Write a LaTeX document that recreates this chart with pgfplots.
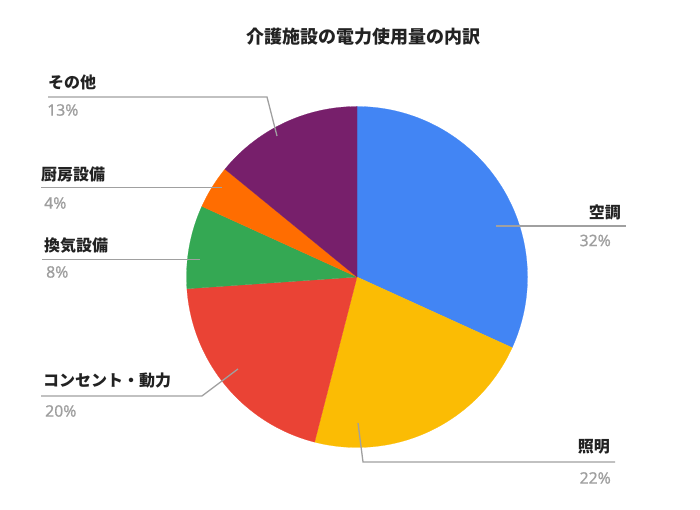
\documentclass[border=0pt]{standalone}
\usepackage{pgfplots}
\pgfplotsset{compat=1.18}
\usepackage{fontspec}
\setmainfont{Noto Sans CJK JP}
\newfontfamily\pctfont{Noto Sans}[FakeBold=0.6]
\definecolor{cBlue}{HTML}{4285F4}
\definecolor{cYellow}{HTML}{FBBC04}
\definecolor{cRed}{HTML}{EA4335}
\definecolor{cGreen}{HTML}{34A853}
\definecolor{cOrange}{HTML}{FF6D01}
\definecolor{cPurple}{HTML}{771F6B}
\definecolor{cLine}{HTML}{A0A0A0}
\definecolor{cPct}{HTML}{9E9E9E}
\definecolor{cText}{HTML}{222222}
% slice values (percent)
\def\vA{31.8}% 空調
\def\vB{22.2}% 照明
\def\vC{19.9}% コンセント・動力
\def\vD{7.9}%  換気設備
\def\vE{4.1}%  厨房設備
\def\vF{14.1}% その他
\pgfmathsetmacro\aA{90}
\pgfmathsetmacro\aB{\aA-3.6*\vA}
\pgfmathsetmacro\aC{\aB-3.6*\vB}
\pgfmathsetmacro\aD{\aC-3.6*\vC}
\pgfmathsetmacro\aE{\aD-3.6*\vD}
\pgfmathsetmacro\aF{\aE-3.6*\vE}
\pgfmathsetmacro\aG{\aF-3.6*\vF}
\def\cx{357}\def\cy{233}\def\rr{170.5}
\newcommand\lab{\fontsize{16}{18}\selectfont\bfseries\color{cText}}
\newcommand\pct{\fontsize{15.8}{18}\selectfont\pctfont\color{cPct}}
\begin{document}
\begin{tikzpicture}
\begin{axis}[scale only axis, width=700pt, height=510pt,
  xmin=0, xmax=700, ymin=0, ymax=510, hide axis, clip=false]
\path (rel axis cs:0,0) rectangle (rel axis cs:1,1);
\addplot[fill=cBlue, draw=cBlue, line width=0.2pt, domain=\aB:\aA, samples=90, variable=\t]
  ({\cx+\rr*cos(\t)},{\cy+\rr*sin(\t)}) -- (\cx,\cy) -- cycle;
\addplot[fill=cYellow, draw=cYellow, line width=0.2pt, domain=\aC:\aB, samples=70, variable=\t]
  ({\cx+\rr*cos(\t)},{\cy+\rr*sin(\t)}) -- (\cx,\cy) -- cycle;
\addplot[fill=cRed, draw=cRed, line width=0.2pt, domain=\aD:\aC, samples=70, variable=\t]
  ({\cx+\rr*cos(\t)},{\cy+\rr*sin(\t)}) -- (\cx,\cy) -- cycle;
\addplot[fill=cGreen, draw=cGreen, line width=0.2pt, domain=\aE:\aD, samples=40, variable=\t]
  ({\cx+\rr*cos(\t)},{\cy+\rr*sin(\t)}) -- (\cx,\cy) -- cycle;
\addplot[fill=cOrange, draw=cOrange, line width=0.2pt, domain=\aF:\aE, samples=30, variable=\t]
  ({\cx+\rr*cos(\t)},{\cy+\rr*sin(\t)}) -- (\cx,\cy) -- cycle;
\addplot[fill=cPurple, draw=cPurple, line width=0.2pt, domain=\aG:\aF, samples=50, variable=\t]
  ({\cx+\rr*cos(\t)},{\cy+\rr*sin(\t)}) -- (\cx,\cy) -- cycle;
% leader lines
\addplot[cLine, line width=1.3pt, no marks] coordinates {(277,374) (267,413) (48,413)};
\addplot[cLine, line width=1.3pt, no marks] coordinates {(222,322.3) (41,322.3)};
\addplot[cLine, line width=1.3pt, no marks] coordinates {(200,250.3) (42,250.3)};
\addplot[cLine, line width=1.3pt, no marks] coordinates {(238,141) (202,114) (41,114)};
\addplot[cLine, line width=1.3pt, no marks] coordinates {(358,87) (363,48) (615,48)};
\addplot[cLine, line width=1.3pt, no marks] coordinates {(496,284) (626,284)};
% labels
\node[anchor=west, inner sep=0pt, font=\lab] at (axis cs:48,427.5) {その他};
\node[anchor=west, inner sep=0pt, font=\pct] at (axis cs:47,400) {13\%};
\node[anchor=west, inner sep=0pt, font=\lab] at (axis cs:41,335.5) {厨房設備};
\node[anchor=west, inner sep=0pt, font=\pct] at (axis cs:44,307) {4\%};
\node[anchor=west, inner sep=0pt, font=\lab] at (axis cs:44,264.5) {換気設備};
\node[anchor=west, inner sep=0pt, font=\pct] at (axis cs:46,238) {8\%};
\node[anchor=west, inner sep=0pt, font=\lab] at (axis cs:43,129) {コンセント・動力};
\node[anchor=west, inner sep=0pt, font=\pct] at (axis cs:45,99) {20\%};
\node[anchor=east, inner sep=0pt, font=\lab] at (axis cs:610,63.5) {照明};
\node[anchor=east, inner sep=0pt, font=\pct] at (axis cs:611,32) {22\%};
\node[anchor=east, inner sep=0pt, font=\lab] at (axis cs:621,297.5) {空調};
\node[anchor=east, inner sep=0pt, font=\pct] at (axis cs:611,269.5) {32\%};
\node[inner sep=0pt, font=\fontsize{18}{20}\selectfont\bfseries\color{cText}] at (axis cs:363,473.5) {介護施設の電力使用量の内訳};
\end{axis}
\end{tikzpicture}
\end{document}
